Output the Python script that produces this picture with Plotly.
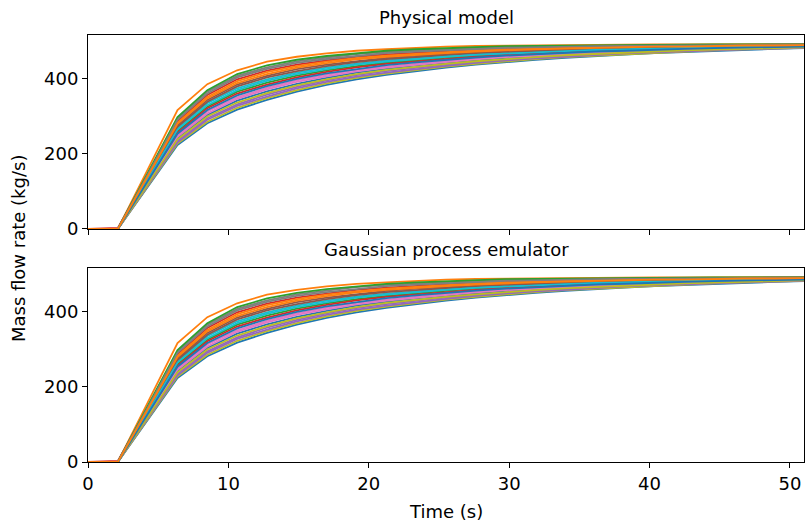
import plotly.graph_objects as go

# Time axis (s)
time_s = [0, 2.125, 4.25, 6.375, 8.5, 10.625, 12.75, 14.875, 17, 19.125, 21.25, 23.375,
          25.5, 27.625, 29.75, 31.875, 34, 36.125, 38.25, 40.375, 42.5, 44.625, 46.75, 48.875, 51]

# Mass flow rate curves (kg/s) (same band in both panels)
c00 = [0, 0, 112, 224, 282, 318, 344, 366, 384, 399, 411, 421, 430, 438, 445, 451, 456, 461, 465, 469, 472, 475, 478, 480, 482]
c01 = [0, 0, 114, 228, 286, 323, 349, 370, 388, 403, 414, 424, 433, 440, 447, 453, 458, 462, 466, 470, 473, 476, 479, 481, 483]
c02 = [0, 0, 116, 231, 291, 328, 353, 375, 392, 406, 417, 427, 435, 443, 449, 455, 459, 464, 468, 471, 474, 477, 479, 481, 483]
c03 = [0, 0, 118, 235, 295, 332, 358, 379, 396, 410, 421, 430, 438, 445, 451, 457, 461, 465, 469, 472, 475, 478, 480, 482, 484]
c04 = [0, 0, 119, 239, 300, 337, 362, 383, 399, 413, 424, 433, 440, 447, 453, 458, 463, 467, 470, 473, 476, 478, 481, 482, 484]
c05 = [0, 0, 121, 243, 304, 342, 367, 387, 403, 417, 427, 436, 443, 450, 456, 460, 464, 468, 472, 475, 477, 479, 482, 483, 485]
c06 = [0, 0, 123, 246, 308, 347, 372, 392, 407, 420, 430, 438, 446, 452, 458, 462, 466, 470, 473, 476, 478, 480, 482, 484, 485]
c07 = [0, 0, 125, 250, 313, 351, 376, 396, 411, 424, 433, 441, 448, 454, 460, 464, 468, 471, 474, 477, 479, 481, 483, 484, 486]
c08 = [0, 0, 127, 254, 317, 356, 381, 400, 415, 427, 437, 444, 451, 457, 462, 466, 469, 473, 475, 478, 480, 482, 484, 485, 486]
c09 = [0, 0, 129, 257, 322, 361, 385, 404, 419, 431, 440, 447, 453, 459, 464, 468, 471, 474, 477, 479, 481, 483, 484, 485, 487]
c10 = [0, 0, 131, 261, 326, 366, 390, 409, 423, 434, 443, 450, 456, 462, 466, 470, 473, 476, 478, 480, 482, 484, 485, 486, 487]
c11 = [0, 0, 132, 265, 330, 370, 395, 413, 426, 438, 446, 453, 459, 464, 468, 471, 474, 477, 479, 481, 482, 484, 486, 487, 488]
c12 = [0, 0, 134, 268, 335, 375, 399, 417, 430, 441, 449, 456, 461, 466, 470, 473, 476, 478, 481, 482, 483, 485, 486, 487, 488]
c13 = [0, 0, 136, 272, 339, 380, 404, 421, 434, 445, 453, 459, 464, 469, 472, 475, 477, 480, 482, 483, 484, 486, 487, 488, 489]
c14 = [0, 0, 138, 276, 344, 385, 408, 426, 438, 448, 456, 462, 466, 471, 474, 477, 479, 481, 483, 484, 485, 487, 488, 488, 489]
c15 = [0, 0, 140, 280, 348, 389, 413, 430, 442, 452, 459, 465, 469, 473, 477, 479, 481, 483, 485, 486, 486, 488, 489, 489, 490]
c16 = [0, 0, 142, 283, 352, 394, 418, 434, 446, 455, 462, 467, 472, 476, 479, 481, 482, 484, 486, 487, 487, 489, 489, 490, 490]
c17 = [0, 3, 143, 287, 357, 399, 422, 438, 449, 459, 465, 470, 474, 478, 481, 482, 484, 486, 487, 488, 488, 489, 490, 490, 491]
c18 = [0, 0, 145, 291, 361, 404, 427, 443, 453, 462, 469, 473, 477, 480, 483, 484, 486, 487, 488, 489, 489, 490, 491, 491, 491]
c19 = [0, 0, 147, 294, 366, 408, 431, 447, 457, 466, 472, 476, 479, 483, 485, 486, 487, 489, 490, 490, 490, 491, 491, 491, 492]
c20 = [0, 0, 149, 298, 370, 413, 436, 451, 461, 469, 475, 479, 482, 485, 487, 488, 489, 490, 491, 491, 491, 492, 492, 492, 492]
outlier = [0, 0, 158, 317, 386, 423, 446, 459, 468, 475, 479, 483, 486, 488, 489, 490, 491, 491, 492, 492, 492, 492, 492, 493, 493]

# drawing order (colour cycle follows it)
physical_curves = [c00, outlier, c10, c17, c03, c14, c07, c19, c01, c12, c05, c16,
                   c20, c09, c02, c13, c06, c18, c04, c11, c08, c15]
emulator_curves = physical_curves

x_ticks = [0, 10, 20, 30, 40, 50]
y_ticks = [0, 200, 400]

tab10 = ['#1f77b4', '#ff7f0e', '#2ca02c', '#d62728', '#9467bd',
         '#8c564b', '#e377c2', '#7f7f7f', '#bcbd22', '#17becf']

fig = go.Figure()
for axes, curves in ((('x', 'y'), physical_curves), (('x2', 'y2'), emulator_curves)):
    for i, ys in enumerate(curves):
        fig.add_trace(go.Scatter(
            x=time_s, y=ys, mode='lines',
            line=dict(color=tab10[i % 10], width=1.8),
            xaxis=axes[0], yaxis=axes[1],
            showlegend=False, hoverinfo='skip'))

font = dict(family='DejaVu Sans', size=18, color='black')
axis_common = dict(showline=True, linecolor='black', linewidth=1, mirror=True,
                   ticks='outside', ticklen=5, tickwidth=1, tickcolor='black',
                   showgrid=False, zeroline=False, tickfont=font)

fig.update_layout(
    width=805, height=521,
    margin=dict(l=88, r=1, t=35, b=59),
    paper_bgcolor='white', plot_bgcolor='white',
    font=font,
    xaxis=dict(domain=[0, 1], anchor='y', range=[0, 51], tickvals=x_ticks,
               showticklabels=False, **axis_common),
    yaxis=dict(domain=[0.5457, 1], anchor='x', range=[0, 517], tickvals=y_ticks,
               **axis_common),
    xaxis2=dict(domain=[0, 1], anchor='y2', range=[0, 51], tickvals=x_ticks,
                **axis_common),
    yaxis2=dict(domain=[0, 0.4543], anchor='x2', range=[0, 517], tickvals=y_ticks,
                **axis_common),
    annotations=[
        dict(text='Physical model', x=0.5, y=1.042, xref='paper', yref='paper',
             showarrow=False, font=font, xanchor='center', yanchor='middle'),
        dict(text='Gaussian process emulator', x=0.5, y=0.4965, xref='paper', yref='paper',
             showarrow=False, font=font, xanchor='center', yanchor='middle'),
        dict(text='Mass flow rate (kg/s)', x=-0.0978, y=0.501, xref='paper', yref='paper',
             showarrow=False, font=font, textangle=-90, xanchor='center', yanchor='middle'),
        dict(text='Time (s)', x=0.5, y=-0.1148, xref='paper', yref='paper',
             showarrow=False, font=font, xanchor='center', yanchor='middle'),
    ],
)

# remove the default 8px page margin so the figure fills the window exactly
fig.write_html('out.html', config={'displayModeBar': False},
               post_script="document.body.style.margin='0px';")
